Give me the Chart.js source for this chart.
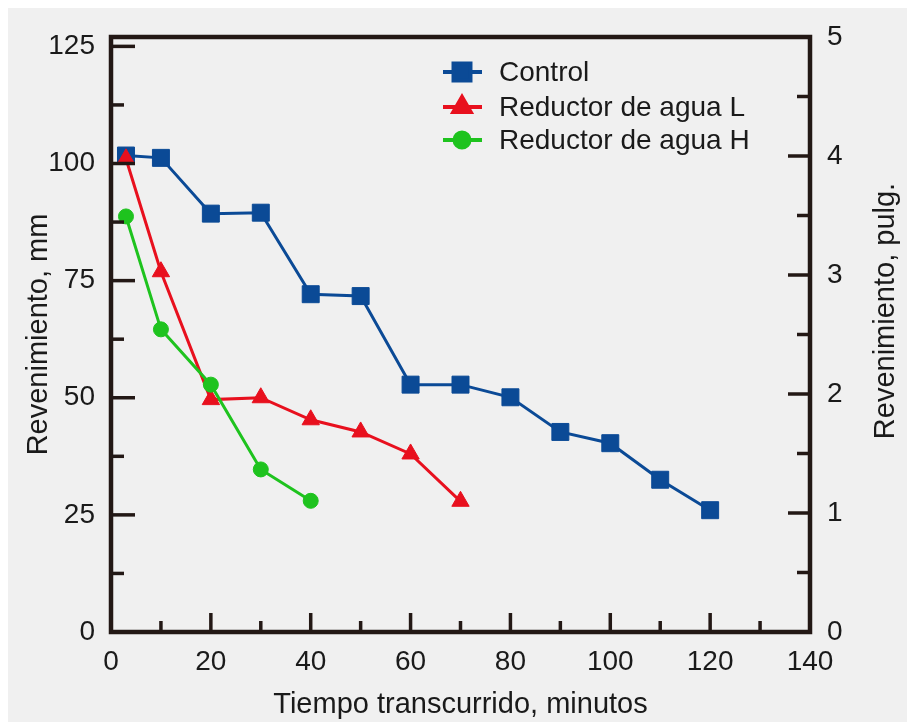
<!DOCTYPE html>
<html>
<head>
<meta charset="utf-8">
<script src="https://cdn.jsdelivr.net/npm/chart.js@4.4.1/dist/chart.umd.min.js"></script>
<style>
  html, body { margin: 0; padding: 0; background: #fff; }
  #wrap { width: 907px; height: 722px; }
</style>
</head>
<body>
<div id="wrap"><canvas id="myChart" width="907" height="722"></canvas></div>
<script>
// elapsed time (min) and slump (mm)
const timeControl = [3, 10, 20, 30, 40, 50, 60, 70, 80, 90, 100, 110, 120];
const slumpControl = [101.7, 101.2, 89.3, 89.5, 72.1, 71.7, 52.8, 52.8, 50.1, 42.7, 40.3, 32.5, 26];
const timeL = [3, 10, 20, 30, 40, 50, 60, 70];
const slumpL = [101, 76.9, 49.6, 50, 45.3, 42.7, 38, 27.9];
const timeH = [3, 10, 20, 30, 40];
const slumpH = [88.7, 64.6, 52.8, 34.7, 28];

const seriesNames = ['Control', 'Reductor de agua L', 'Reductor de agua H'];

// axis ticks
const xMajorTicks = [20, 40, 60, 80, 100, 120];
const xMinorTicks = [10, 30, 50, 70, 90, 110, 130];
const mmLabels = [0, 25, 50, 75, 100, 125];
const mmMajorTicks = [25, 50, 75, 100, 125];
const mmMinorTicks = [12.5, 37.5, 62.5, 87.5, 112.5];
const inMajorTicks = [1, 2, 3, 4];
const inMinorTicks = [0.5, 1.5, 2.5, 3.5, 4.5];

const frameColor = '#231815';
const textColor = '#1a1a1a';
const fontFam = '"Liberation Sans", Arial, sans-serif';

function pts(xs, ys) {
  return xs.map((x, i) => ({ x: x, y: ys[i] }));
}

const bgPlugin = {
  id: 'bg',
  beforeDraw(chart) {
    const c = chart.ctx;
    c.save();
    c.fillStyle = '#ffffff';
    c.fillRect(0, 0, chart.width, chart.height);
    c.fillStyle = '#f0f0f0';
    c.fillRect(8, 8, chart.width - 8, chart.height - 8);
    c.restore();
  }
};

const framePlugin = {
  id: 'frame',
  afterDatasetsDraw(chart) {
    const c = chart.ctx;
    const { left, right, top, bottom } = chart.chartArea;
    const sx = chart.scales.x, sy = chart.scales.y, sy2 = chart.scales.y2;
    c.save();
    c.strokeStyle = frameColor;
    c.lineWidth = 3.5;
    c.lineCap = 'butt';
    function tick(x1, y1, x2, y2) {
      c.beginPath(); c.moveTo(x1, y1); c.lineTo(x2, y2); c.stroke();
    }
    mmMajorTicks.forEach(v => { const p = sy.getPixelForValue(v); tick(left, p, left + 24, p); });
    mmMinorTicks.forEach(v => { const p = sy.getPixelForValue(v); tick(left, p, left + 13, p); });
    inMajorTicks.forEach(v => { const p = sy2.getPixelForValue(v); tick(right, p, right - 22, p); });
    inMinorTicks.forEach(v => { const p = sy2.getPixelForValue(v); tick(right, p, right - 13, p); });
    xMajorTicks.forEach(v => { const p = sx.getPixelForValue(v); tick(p, bottom, p, bottom - 19); });
    xMinorTicks.forEach(v => { const p = sx.getPixelForValue(v); tick(p, bottom, p, bottom - 11); });
    c.lineWidth = 4.5;
    c.strokeRect(left, top, right - left, bottom - top);
    c.restore();
  },
  afterDraw(chart) {
    const c = chart.ctx;
    c.save();
    // right axis title, reading upward
    c.fillStyle = textColor;
    c.font = '29px ' + fontFam;
    c.textAlign = 'center';
    c.textBaseline = 'middle';
    c.translate(886, 311);
    c.rotate(-Math.PI / 2);
    c.fillText('Revenimiento, pulg.', 0, 0);
    c.restore();

    // legend
    c.save();
    const rowY = [72, 107, 140];
    chart.data.datasets.forEach((ds, i) => {
      const y = rowY[i];
      c.strokeStyle = ds.borderColor;
      c.lineWidth = 4;
      c.beginPath(); c.moveTo(443, y); c.lineTo(482, y); c.stroke();
      c.fillStyle = ds.borderColor;
      c.strokeStyle = ds.borderColor;
      Chart.helpers.drawPoint(c, { pointStyle: ds.pointStyle, radius: ds.pointRadius, borderWidth: 1, rotation: 0 }, 462, y);
      c.fillStyle = textColor;
      c.font = '28px ' + fontFam;
      c.textAlign = 'left';
      c.textBaseline = 'middle';
      c.fillText(ds.label, 499, y + 1);
    });
    c.restore();
  }
};

const ctx = document.getElementById('myChart').getContext('2d');
const chart = new Chart(ctx, {
  type: 'line',
  data: {
    datasets: [{
      label: seriesNames[0],
      data: pts(timeControl, slumpControl),
      borderColor: '#0b4a96',
      backgroundColor: '#0b4a96',
      pointStyle: 'rect',
      pointRadius: 12,
      order: 3
    }, {
      label: seriesNames[1],
      data: pts(timeL, slumpL),
      borderColor: '#e8101e',
      backgroundColor: '#e8101e',
      pointStyle: 'triangle',
      pointRadius: 10,
      order: 2
    }, {
      label: seriesNames[2],
      data: pts(timeH, slumpH),
      borderColor: '#1ec31e',
      backgroundColor: '#1ec31e',
      pointStyle: 'circle',
      pointRadius: 7.5,
      order: 1
    }]
  },
  options: {
    responsive: false,
    animation: false,
    devicePixelRatio: 1,
    layout: { padding: { left: 0, right: 0, top: 37, bottom: 0 } },
    elements: {
      line: { borderWidth: 3, tension: 0, fill: false },
      point: { borderWidth: 1, hoverRadius: 12 }
    },
    plugins: { legend: { display: false }, tooltip: { enabled: false } },
    scales: {
      x: {
        type: 'linear', min: 0, max: 140,
        grid: { display: false, drawTicks: false },
        border: { display: false },
        ticks: { stepSize: 20, padding: 13, color: textColor, font: { family: fontFam, size: 28 } },
        title: { display: true, text: 'Tiempo transcurrido, minutos', color: textColor,
                 font: { family: fontFam, size: 29 }, padding: { top: 0, bottom: 0 } },
        afterFit: s => { s.height = 90; }
      },
      y: {
        position: 'left', min: 0, max: 127,
        grid: { display: false, drawTicks: false },
        border: { display: false },
        ticks: { stepSize: 25, padding: 16, color: textColor, font: { family: fontFam, size: 28 } },
        afterBuildTicks: s => { s.ticks = mmLabels.map(v => ({ value: v })); },
        title: { display: true, text: 'Revenimiento, mm', color: textColor,
                 font: { family: fontFam, size: 29 }, padding: { top: 22, bottom: 0 } },
        afterFit: s => { s.width = 111; }
      },
      y2: {
        position: 'right', min: 0, max: 5,
        grid: { display: false, drawTicks: false },
        border: { display: false },
        ticks: { stepSize: 1, padding: 17, color: textColor, font: { family: fontFam, size: 28 } },
        afterFit: s => { s.width = 97; }
      }
    }
  },
  plugins: [bgPlugin, framePlugin]
});
</script>
</body>
</html>
